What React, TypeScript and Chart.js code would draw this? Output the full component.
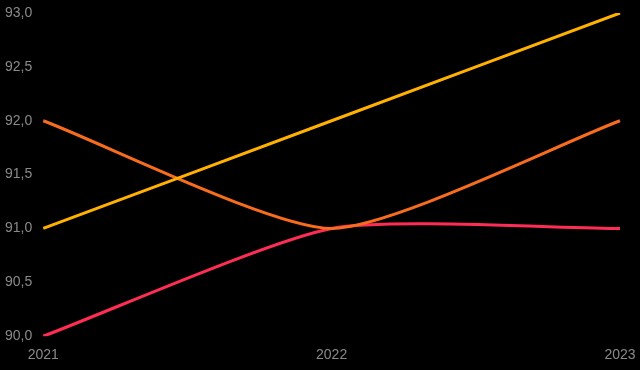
import React, { useEffect, useRef } from "react";
import { Chart, registerables } from "chart.js";

Chart.register(...registerables);

const categories = ["2021", "2022", "2023"];
const seriesYellow = [91, 92, 93];
const seriesOrange = [92, 91, 92];
const seriesRed = [90, 91, 91];

export default function App() {
  const ref = useRef<HTMLCanvasElement | null>(null);
  useEffect(() => {
    document.body.style.margin = "0";
    document.body.style.background = "#000";
    const chart = new Chart(ref.current!, {
      type: "line",
      data: {
        labels: categories,
        datasets: [
          { data: seriesYellow, borderColor: "#ffb000", borderWidth: 3, pointRadius: 0, tension: 0.2 },
          { data: seriesOrange, borderColor: "#f86c1e", borderWidth: 3, pointRadius: 0, tension: 0.2 },
          { data: seriesRed, borderColor: "#ff2d55", borderWidth: 3, pointRadius: 0, tension: 0.2 },
        ],
      },
      options: {
        animation: false,
        responsive: false,
        layout: { padding: { left: 2, right: 20, top: 13, bottom: 3 } },
        plugins: { legend: { display: false }, tooltip: { enabled: false } },
        scales: {
          x: {
            grid: { display: false },
            border: { display: false },
            ticks: { color: "#8a8a8a", font: { family: "Liberation Sans", size: 14 }, maxRotation: 0 },
          },
          y: {
            min: 90,
            max: 93,
            grid: { display: false },
            border: { display: false },
            ticks: {
              stepSize: 0.5,
              color: "#8a8a8a",
              font: { family: "Liberation Sans", size: 14 },
              callback: (v: any) => Number(v).toFixed(1).replace(".", ","),
            },
          },
        },
      },
    });
    return () => chart.destroy();
  }, []);
  return (
    <div style={{ width: 640, height: 370, background: "#000" }}>
      <canvas ref={ref} width={640} height={370} style={{ display: "block" }} />
    </div>
  );
}
